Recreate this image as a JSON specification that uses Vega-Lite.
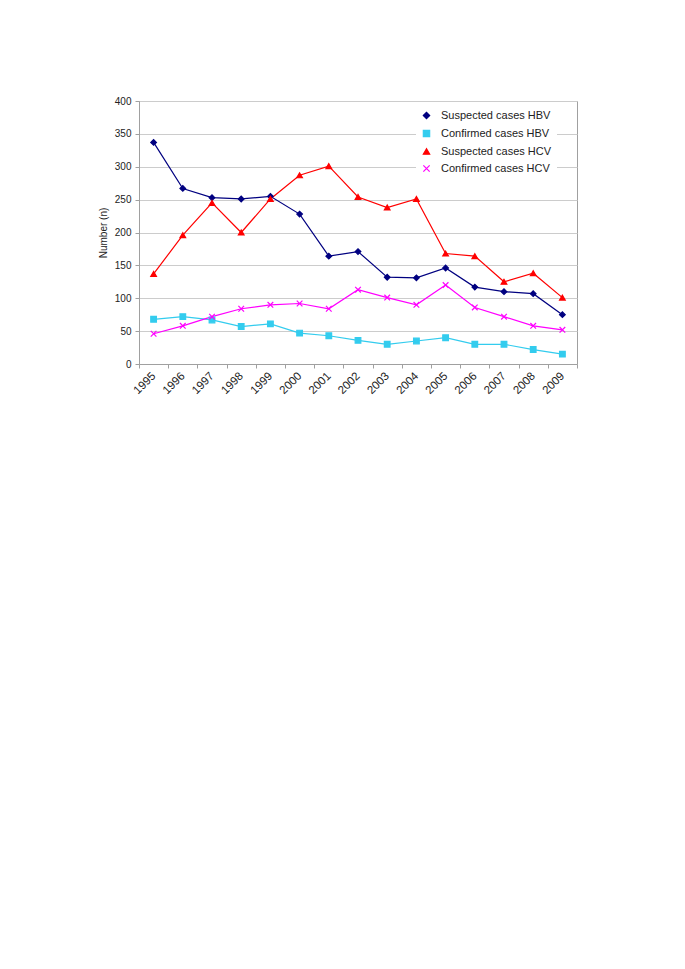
{
  "$schema": "https://vega.github.io/schema/vega-lite/v6.json",
  "autosize": {"type": "none"},
  "width": 438,
  "height": 263,
  "padding": {"left": 139, "top": 101, "right": 108, "bottom": 605},
  "background": "white",
  "config": {
    "font": "Liberation Sans",
    "view": {"stroke": "#a0a0a0", "strokeWidth": 1}
  },
  "datasets": {
    "cases": [
      {"year": "1995", "series": "Suspected cases HBV", "value": 337},
      {"year": "1996", "series": "Suspected cases HBV", "value": 267},
      {"year": "1997", "series": "Suspected cases HBV", "value": 253},
      {"year": "1998", "series": "Suspected cases HBV", "value": 251},
      {"year": "1999", "series": "Suspected cases HBV", "value": 255},
      {"year": "2000", "series": "Suspected cases HBV", "value": 228},
      {"year": "2001", "series": "Suspected cases HBV", "value": 164},
      {"year": "2002", "series": "Suspected cases HBV", "value": 171},
      {"year": "2003", "series": "Suspected cases HBV", "value": 132},
      {"year": "2004", "series": "Suspected cases HBV", "value": 131},
      {"year": "2005", "series": "Suspected cases HBV", "value": 146},
      {"year": "2006", "series": "Suspected cases HBV", "value": 117},
      {"year": "2007", "series": "Suspected cases HBV", "value": 110},
      {"year": "2008", "series": "Suspected cases HBV", "value": 107},
      {"year": "2009", "series": "Suspected cases HBV", "value": 75},
      {"year": "1995", "series": "Confirmed cases HBV", "value": 68},
      {"year": "1996", "series": "Confirmed cases HBV", "value": 72},
      {"year": "1997", "series": "Confirmed cases HBV", "value": 67},
      {"year": "1998", "series": "Confirmed cases HBV", "value": 57},
      {"year": "1999", "series": "Confirmed cases HBV", "value": 61},
      {"year": "2000", "series": "Confirmed cases HBV", "value": 47},
      {"year": "2001", "series": "Confirmed cases HBV", "value": 43},
      {"year": "2002", "series": "Confirmed cases HBV", "value": 36},
      {"year": "2003", "series": "Confirmed cases HBV", "value": 30},
      {"year": "2004", "series": "Confirmed cases HBV", "value": 35},
      {"year": "2005", "series": "Confirmed cases HBV", "value": 40},
      {"year": "2006", "series": "Confirmed cases HBV", "value": 30},
      {"year": "2007", "series": "Confirmed cases HBV", "value": 30},
      {"year": "2008", "series": "Confirmed cases HBV", "value": 22},
      {"year": "2009", "series": "Confirmed cases HBV", "value": 15},
      {"year": "1995", "series": "Suspected cases HCV", "value": 137},
      {"year": "1996", "series": "Suspected cases HCV", "value": 196},
      {"year": "1997", "series": "Suspected cases HCV", "value": 245},
      {"year": "1998", "series": "Suspected cases HCV", "value": 200},
      {"year": "1999", "series": "Suspected cases HCV", "value": 251},
      {"year": "2000", "series": "Suspected cases HCV", "value": 287},
      {"year": "2001", "series": "Suspected cases HCV", "value": 301},
      {"year": "2002", "series": "Suspected cases HCV", "value": 254},
      {"year": "2003", "series": "Suspected cases HCV", "value": 238},
      {"year": "2004", "series": "Suspected cases HCV", "value": 251},
      {"year": "2005", "series": "Suspected cases HCV", "value": 168},
      {"year": "2006", "series": "Suspected cases HCV", "value": 164},
      {"year": "2007", "series": "Suspected cases HCV", "value": 125},
      {"year": "2008", "series": "Suspected cases HCV", "value": 138},
      {"year": "2009", "series": "Suspected cases HCV", "value": 101},
      {"year": "1995", "series": "Confirmed cases HCV", "value": 46},
      {"year": "1996", "series": "Confirmed cases HCV", "value": 58},
      {"year": "1997", "series": "Confirmed cases HCV", "value": 72},
      {"year": "1998", "series": "Confirmed cases HCV", "value": 84},
      {"year": "1999", "series": "Confirmed cases HCV", "value": 90},
      {"year": "2000", "series": "Confirmed cases HCV", "value": 92},
      {"year": "2001", "series": "Confirmed cases HCV", "value": 84},
      {"year": "2002", "series": "Confirmed cases HCV", "value": 113},
      {"year": "2003", "series": "Confirmed cases HCV", "value": 101},
      {"year": "2004", "series": "Confirmed cases HCV", "value": 90},
      {"year": "2005", "series": "Confirmed cases HCV", "value": 120},
      {"year": "2006", "series": "Confirmed cases HCV", "value": 86},
      {"year": "2007", "series": "Confirmed cases HCV", "value": 72},
      {"year": "2008", "series": "Confirmed cases HCV", "value": 58},
      {"year": "2009", "series": "Confirmed cases HCV", "value": 52}
    ]
  },
  "data": {"name": "cases"},
  "encoding": {
    "x": {
      "field": "year",
      "type": "ordinal",
      "scale": {"type": "band", "paddingInner": 0, "paddingOuter": 0},
      "axis": {
        "title": null,
        "labelAngle": -45,
        "labelAlign": "right",
        "labelBaseline": "middle",
        "labelFontSize": 11.5,
        "labelColor": "#222",
        "labelPadding": 6,
        "tickBand": "extent",
        "tickSize": 4,
        "tickColor": "#a0a0a0",
        "domainColor": "#a0a0a0",
        "grid": false
      }
    },
    "y": {
      "field": "value",
      "type": "quantitative",
      "scale": {"domain": [0, 400], "nice": false},
      "axis": {
        "title": "Number (n)",
        "titleFontSize": 10,
        "titleFontWeight": "normal",
        "titleColor": "#222",
        "titlePadding": 6,
        "values": [0, 50, 100, 150, 200, 250, 300, 350, 400],
        "labelFontSize": 10,
        "labelColor": "#222",
        "labelPadding": 4,
        "tickSize": 4,
        "tickColor": "#a0a0a0",
        "domainColor": "#a0a0a0",
        "gridColor": "#cccccc",
        "gridWidth": 1
      }
    }
  },
  "layer": [
    {
      "mark": {"type": "line", "strokeWidth": 1.2},
      "encoding": {
        "stroke": {
          "field": "series",
          "type": "nominal",
          "scale": {
            "domain": ["Suspected cases HBV", "Confirmed cases HBV", "Suspected cases HCV", "Confirmed cases HCV"],
            "range": ["#000080", "#33ccee", "#ff0000", "#ff00ff"]
          },
          "legend": {
            "title": null,
            "orient": "none",
            "legendX": 277,
            "legendY": 4,
            "fillColor": "white",
            "padding": 5,
            "rowPadding": 5,
            "labelFontSize": 11,
            "labelColor": "#222",
            "labelOffset": 9,
            "symbolSize": 40,
            "symbolStrokeWidth": 1.2
          }
        }
      }
    },
    {
      "mark": {"type": "point", "filled": true, "opacity": 1, "size": 32, "strokeWidth": 1.2},
      "encoding": {
        "fill": {
          "field": "series",
          "type": "nominal",
          "scale": {
            "domain": ["Suspected cases HBV", "Confirmed cases HBV", "Suspected cases HCV", "Confirmed cases HCV"],
            "range": ["#000080", "#33ccee", "#ff0000", "#ff00ff"]
          }
        },
        "stroke": {
          "field": "series",
          "type": "nominal"
        },
        "shape": {
          "field": "series",
          "type": "nominal",
          "scale": {
            "domain": ["Suspected cases HBV", "Confirmed cases HBV", "Suspected cases HCV", "Confirmed cases HCV"],
            "range": ["diamond", "square", "triangle-up", "M-1,-1L1,1M-1,1L1,-1"]
          }
        }
      }
    }
  ]
}
